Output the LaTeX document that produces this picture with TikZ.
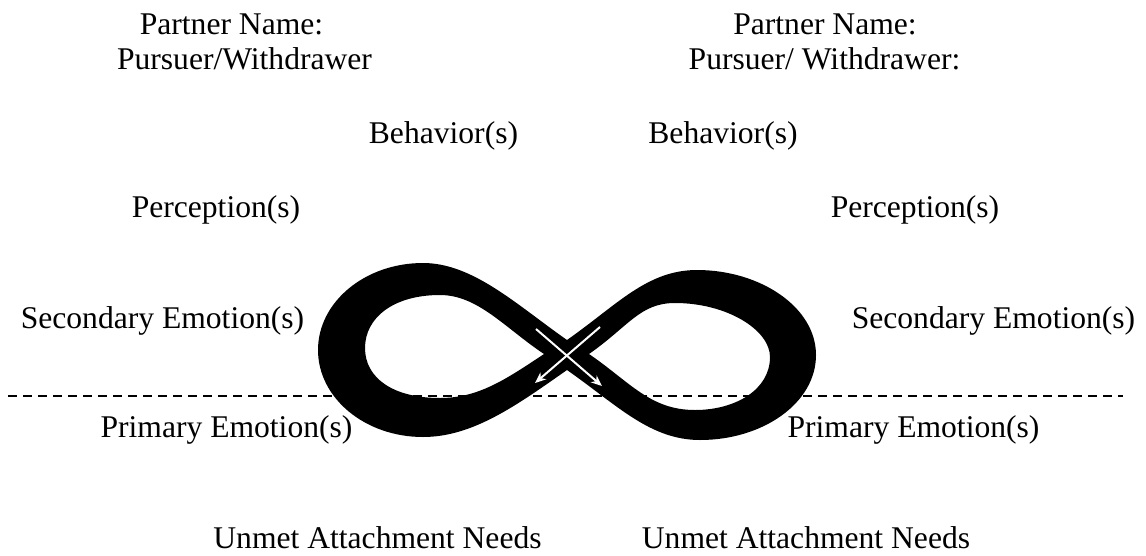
\documentclass[tikz,border=0pt]{standalone}
\usepackage{fontspec}
\setmainfont{Liberation Serif}
\usetikzlibrary{arrows.meta}
\tikzset{
  lbl/.style={anchor=base, inner sep=0pt, font=\fontsize{31.6pt}{38pt}\selectfont},
  divider/.style={line width=1.5pt, dash pattern=on 9pt off 6pt},
  band/.style={fill=black, even odd rule},
  whitearrow/.style={draw=white, line width=2pt, -{Stealth[length=11pt,width=9pt,fill=white]}}
}
\begin{document}
\begin{tikzpicture}[x=1pt,y=-1pt]
\useasboundingbox (0,0) rectangle (1146,555);
\fill[white] (0,0) rectangle (1146,555);

% texts
\node[lbl] (pnL) at (231.5,34) {Partner Name:};
\node[lbl] (pwL) at (244.5,69) {Pursuer/Withdrawer};
\node[lbl] (pnR) at (825,34) {Partner Name:};
\node[lbl] (pwR) at (824.5,69) {Pursuer/ Withdrawer:};
\node[lbl] (behL) at (443.5,143) {Behavior(s)};
\node[lbl] (behR) at (723,143) {Behavior(s)};
\node[lbl] (perL) at (216,217) {Perception(s)};
\node[lbl] (perR) at (915,217) {Perception(s)};
\node[lbl] (secL) at (162.5,328) {Secondary Emotion(s)};
\node[lbl] (secR) at (993.5,328) {Secondary Emotion(s)};
\node[lbl] (priL) at (226.5,437) {Primary Emotion(s)};
\node[lbl] (priR) at (913.5,437) {Primary Emotion(s)};
\node[lbl] (unL) at (377.5,548) {Unmet Attachment Needs};
\node[lbl] (unR) at (806,548) {Unmet Attachment Needs};

% dashed divider
\coordinate (dl) at (8,396);
\coordinate (dr) at (1123,396);
\draw[divider] (dl) -- (dr);

% infinity band
\path[band]
 (567,340) .. controls (517,305) and (473,263) .. (423,263)
 .. controls (365,263) and (318,302) .. (318,350)
 .. controls (318,398) and (365,437) .. (423,437)
 .. controls (473,437) and (517,405) .. (567,370)
 .. controls (617,405) and (650,440) .. (700,440)
 .. controls (763,440) and (816,403) .. (816,355)
 .. controls (816,307) and (760,270) .. (697,270)
 .. controls (647,270) and (617,305) .. (567,340) -- cycle
 (544,354) .. controls (505,328) and (478,295) .. (440,295)
 .. controls (393,295) and (365,318) .. (365,348)
 .. controls (365,378) and (393,398) .. (440,398)
 .. controls (478,398) and (505,380) .. (544,354) -- cycle
 (589,354) .. controls (629,326) and (640,303) .. (675,303)
 .. controls (727,303) and (770,330) .. (770,357)
 .. controls (770,390) and (735,410) .. (695,410)
 .. controls (650,410) and (630,382) .. (589,354) -- cycle;

% white arrows at the crossing
\coordinate (a1s) at (600,327);
\coordinate (a1e) at (535,383);
\coordinate (a2s) at (536,329);
\coordinate (a2e) at (602,386);
\draw[whitearrow] (a1s) -- (a1e);
\draw[whitearrow] (a2s) -- (a2e);
\end{tikzpicture}
\end{document}
